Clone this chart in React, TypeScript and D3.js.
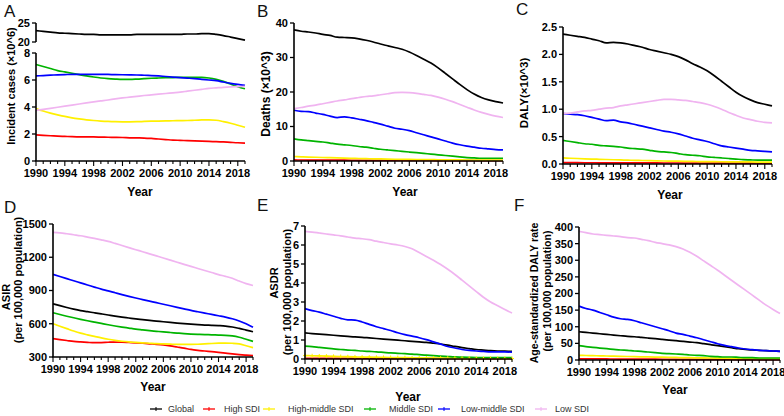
import * as d3 from 'd3';

const years = d3.range(1990, 2020);
const yearTicks = [1990, 1994, 1998, 2002, 2006, 2010, 2014, 2018];
const seriesNames = ['Global', 'High SDI', 'High-middle SDI', 'Middle SDI', 'Low-middle SDI', 'Low SDI'];
const seriesColors = ['#000000', '#ff0000', '#fff000', '#00b400', '#0000ff', '#f0b4f0'];

// A: incident cases (x10^6)
const incidentGlobal = [23.0, 22.8, 22.6, 22.4, 22.3, 22.2, 22.1, 22.0, 22.0, 21.9, 21.9, 21.9, 21.9, 21.9, 22.0, 22.0, 22.0, 22.0, 22.0, 22.0, 22.0, 22.1, 22.1, 22.2, 22.2, 22.0, 21.7, 21.3, 20.9, 20.5];
const incidentHigh = [1.93, 1.9, 1.87, 1.84, 1.82, 1.8, 1.79, 1.78, 1.78, 1.77, 1.76, 1.75, 1.74, 1.72, 1.71, 1.7, 1.67, 1.63, 1.59, 1.55, 1.53, 1.51, 1.49, 1.47, 1.45, 1.43, 1.41, 1.38, 1.35, 1.33];
const incidentHighMid = [3.88, 3.7, 3.55, 3.42, 3.3, 3.2, 3.12, 3.05, 3.0, 2.96, 2.93, 2.91, 2.9, 2.9, 2.91, 2.93, 2.95, 2.96, 2.97, 2.98, 2.99, 3.0, 3.02, 3.04, 3.05, 3.02, 2.92, 2.8, 2.65, 2.5];
const incidentMid = [7.15, 7.0, 6.85, 6.7, 6.6, 6.5, 6.4, 6.3, 6.22, 6.15, 6.1, 6.07, 6.05, 6.05, 6.07, 6.1, 6.13, 6.15, 6.17, 6.18, 6.2, 6.2, 6.2, 6.2, 6.15, 6.05, 5.9, 5.7, 5.5, 5.35];
const incidentLowMid = [6.3, 6.33, 6.36, 6.38, 6.4, 6.42, 6.42, 6.42, 6.42, 6.42, 6.41, 6.4, 6.39, 6.38, 6.37, 6.35, 6.33, 6.3, 6.26, 6.22, 6.18, 6.14, 6.1, 6.05, 6.0, 5.95, 5.85, 5.75, 5.67, 5.6];
const incidentLow = [3.75, 3.82, 3.9, 3.98, 4.06, 4.14, 4.22, 4.3, 4.38, 4.45, 4.52, 4.6, 4.67, 4.73, 4.79, 4.85, 4.9, 4.95, 5.0, 5.05, 5.1, 5.17, 5.24, 5.31, 5.38, 5.42, 5.46, 5.49, 5.51, 5.53];

// B: deaths (x10^3)
const deathsGlobal = [38.0, 37.6, 37.4, 37.1, 36.7, 36.4, 35.9, 35.8, 35.7, 35.4, 35.0, 34.5, 33.9, 33.4, 32.9, 32.4, 31.6, 30.6, 29.5, 28.4, 27.0, 25.4, 23.8, 22.2, 20.7, 19.4, 18.4, 17.7, 17.2, 16.8];
const deathsHigh = [0.3, 0.29, 0.28, 0.27, 0.26, 0.25, 0.24, 0.23, 0.22, 0.21, 0.2, 0.19, 0.18, 0.17, 0.16, 0.16, 0.15, 0.15, 0.14, 0.14, 0.13, 0.13, 0.12, 0.12, 0.12, 0.11, 0.11, 0.11, 0.1, 0.1];
const deathsHighMid = [1.3, 1.22, 1.15, 1.08, 1.01, 0.95, 0.89, 0.83, 0.78, 0.73, 0.68, 0.63, 0.59, 0.55, 0.51, 0.48, 0.45, 0.42, 0.4, 0.38, 0.36, 0.34, 0.32, 0.3, 0.29, 0.28, 0.27, 0.26, 0.25, 0.24];
const deathsMid = [6.4, 6.1, 5.9, 5.7, 5.5, 5.2, 4.9, 4.7, 4.5, 4.2, 4.0, 3.7, 3.4, 3.2, 3.0, 2.8, 2.6, 2.4, 2.2, 2.0, 1.8, 1.6, 1.4, 1.2, 1.0, 0.9, 0.8, 0.8, 0.8, 0.8];
const deathsLowMid = [14.7, 14.4, 14.3, 13.9, 13.5, 13.0, 12.6, 12.8, 12.5, 12.1, 11.7, 11.2, 10.7, 10.1, 9.5, 9.2, 8.8, 8.2, 7.6, 7.0, 6.4, 5.8, 5.2, 4.7, 4.3, 4.0, 3.7, 3.5, 3.3, 3.2];
const deathsLow = [15.2, 15.5, 15.9, 16.2, 16.6, 17.0, 17.4, 17.7, 18.1, 18.4, 18.7, 18.9, 19.2, 19.5, 19.8, 19.9, 19.8, 19.6, 19.3, 19.0, 18.5, 17.9, 17.2, 16.4, 15.6, 14.8, 14.1, 13.5, 13.0, 12.6];

// C: DALY (x10^3)
const dalyGlobal = [2.37, 2.35, 2.33, 2.31, 2.28, 2.25, 2.21, 2.22, 2.21, 2.19, 2.16, 2.13, 2.09, 2.06, 2.03, 2.0, 1.96, 1.9, 1.83, 1.77, 1.7, 1.61, 1.51, 1.41, 1.31, 1.23, 1.17, 1.12, 1.09, 1.06];
const dalyHigh = [0.025, 0.024, 0.024, 0.023, 0.023, 0.022, 0.022, 0.021, 0.021, 0.02, 0.02, 0.02, 0.019, 0.019, 0.018, 0.018, 0.018, 0.017, 0.017, 0.017, 0.016, 0.016, 0.016, 0.016, 0.015, 0.015, 0.015, 0.015, 0.015, 0.015];
const dalyHighMid = [0.11, 0.105, 0.1, 0.095, 0.09, 0.086, 0.082, 0.078, 0.074, 0.07, 0.067, 0.064, 0.061, 0.058, 0.055, 0.053, 0.051, 0.049, 0.047, 0.045, 0.043, 0.042, 0.041, 0.04, 0.039, 0.038, 0.037, 0.036, 0.035, 0.035];
const dalyMid = [0.43, 0.41, 0.39, 0.37, 0.36, 0.34, 0.33, 0.32, 0.31, 0.29, 0.28, 0.27, 0.25, 0.23, 0.22, 0.21, 0.19, 0.17, 0.16, 0.15, 0.13, 0.12, 0.11, 0.1, 0.09, 0.08, 0.075, 0.07, 0.07, 0.07];
const dalyLowMid = [0.92, 0.91, 0.9, 0.88, 0.85, 0.82, 0.79, 0.8, 0.77, 0.75, 0.72, 0.69, 0.66, 0.63, 0.6, 0.58, 0.55, 0.51, 0.47, 0.44, 0.41, 0.37, 0.33, 0.31, 0.29, 0.27, 0.25, 0.24, 0.23, 0.22];
const dalyLow = [0.92, 0.93, 0.95, 0.97, 0.98, 1.0, 1.02, 1.03, 1.06, 1.08, 1.1, 1.12, 1.14, 1.16, 1.18, 1.18, 1.17, 1.16, 1.14, 1.12, 1.09, 1.05, 1.0, 0.94, 0.89, 0.84, 0.81, 0.78, 0.76, 0.75];

// D: ASIR (per 100,000)
const asirGlobal = [780, 763, 747, 732, 719, 709, 699, 689, 679, 669, 660, 652, 644, 637, 630, 624, 618, 612, 606, 601, 597, 592, 588, 586, 583, 579, 571, 558, 543, 528];
const asirHigh = [465, 457, 449, 441, 436, 432, 429, 430, 433, 435, 434, 431, 428, 424, 419, 414, 408, 400, 390, 380, 368, 360, 354, 348, 342, 335, 328, 322, 317, 312];
const asirHighMid = [600, 578, 556, 534, 515, 500, 486, 472, 460, 450, 442, 436, 432, 428, 424, 420, 418, 416, 414, 414, 414, 415, 418, 422, 425, 426, 424, 418, 402, 384];
const asirMid = [700, 683, 668, 654, 640, 627, 615, 603, 591, 580, 570, 561, 552, 545, 538, 532, 526, 521, 516, 511, 507, 504, 502, 500, 498, 496, 490, 478, 460, 441];
const asirLowMid = [1045, 1026, 1007, 988, 969, 950, 931, 912, 897, 880, 863, 847, 832, 818, 804, 790, 776, 762, 748, 734, 720, 708, 696, 684, 672, 660, 645, 625, 600, 568];
const asirLow = [1425, 1420, 1412, 1403, 1394, 1382, 1370, 1357, 1343, 1325, 1306, 1287, 1268, 1250, 1231, 1212, 1193, 1174, 1155, 1136, 1118, 1099, 1080, 1062, 1043, 1028, 1010, 985, 962, 945];

// E: ASDR (per 100,000)
const asdrGlobal = [1.37, 1.34, 1.31, 1.28, 1.25, 1.22, 1.19, 1.16, 1.14, 1.11, 1.08, 1.05, 1.02, 0.99, 0.96, 0.93, 0.9, 0.87, 0.83, 0.79, 0.73, 0.66, 0.6, 0.55, 0.5, 0.47, 0.44, 0.42, 0.41, 0.4];
const asdrHigh = [0.04, 0.038, 0.036, 0.034, 0.032, 0.03, 0.029, 0.028, 0.027, 0.026, 0.025, 0.024, 0.023, 0.022, 0.021, 0.02, 0.02, 0.019, 0.019, 0.018, 0.018, 0.017, 0.017, 0.016, 0.016, 0.016, 0.015, 0.015, 0.015, 0.015];
const asdrHighMid = [0.18, 0.17, 0.16, 0.15, 0.14, 0.13, 0.12, 0.11, 0.1, 0.095, 0.09, 0.085, 0.08, 0.075, 0.07, 0.065, 0.06, 0.055, 0.05, 0.047, 0.044, 0.041, 0.038, 0.036, 0.034, 0.032, 0.03, 0.029, 0.028, 0.027];
const asdrMid = [0.68, 0.65, 0.61, 0.57, 0.53, 0.5, 0.47, 0.45, 0.42, 0.4, 0.38, 0.35, 0.32, 0.3, 0.28, 0.26, 0.23, 0.2, 0.18, 0.15, 0.13, 0.11, 0.1, 0.09, 0.08, 0.08, 0.07, 0.07, 0.07, 0.07];
const asdrLowMid = [2.65, 2.55, 2.47, 2.36, 2.25, 2.14, 2.06, 2.05, 1.95, 1.82, 1.7, 1.6, 1.5, 1.38, 1.28, 1.2, 1.12, 1.02, 0.9, 0.78, 0.66, 0.58, 0.5, 0.45, 0.42, 0.4, 0.38, 0.37, 0.37, 0.36];
const asdrLow = [6.72, 6.68, 6.63, 6.58, 6.53, 6.48, 6.42, 6.36, 6.33, 6.28, 6.2, 6.13, 6.06, 6.0, 5.92, 5.8, 5.6, 5.4, 5.2, 4.97, 4.72, 4.45, 4.15, 3.85, 3.55, 3.25, 3.0, 2.8, 2.6, 2.42];

// F: age-standardized DALY rate (per 100,000)
const asdalyGlobal = [85, 83, 81, 79, 77, 75, 73, 71, 70, 68, 66, 64, 62, 60, 58, 56, 54, 52, 49, 46, 43, 40, 37, 34, 32, 30, 29, 28, 27, 26];
const asdalyHigh = [3.5, 3.4, 3.3, 3.2, 3.1, 3.0, 2.9, 2.8, 2.7, 2.6, 2.5, 2.4, 2.3, 2.2, 2.1, 2.0, 1.9, 1.8, 1.7, 1.7, 1.6, 1.5, 1.5, 1.4, 1.4, 1.3, 1.3, 1.3, 1.2, 1.2];
const asdalyHighMid = [14, 13.5, 13, 12.5, 12, 11.5, 11, 10.5, 10, 9.6, 9.2, 8.8, 8.4, 8, 7.6, 7.2, 6.9, 6.6, 6.3, 6, 5.7, 5.4, 5.1, 4.9, 4.7, 4.5, 4.3, 4.2, 4.1, 4];
const asdalyMid = [43, 40, 38, 36, 34, 32, 30, 29, 27, 26, 24, 22, 20, 19, 18, 17, 15, 14, 13, 11, 10, 9, 9, 8, 7, 7, 6, 6, 6, 6];
const asdalyLowMid = [162, 155, 150, 143, 136, 129, 124, 122, 118, 112, 106, 100, 94, 88, 81, 77, 72, 67, 61, 55, 49, 44, 40, 36, 33, 31, 29, 28, 27, 26];
const asdalyLow = [387, 383, 379, 377, 375, 373, 371, 368, 367, 363, 359, 354, 350, 346, 341, 334, 324, 312, 298, 284, 270, 255, 240, 225, 210, 195, 180, 165, 152, 140];

const FONT = "'Liberation Sans', Arial, Helvetica, sans-serif";

type Title = { text: string; x: number; y: number; size: number };
type Panel = {
  letter: string; lx: number; ly: number;
  x0: number; x1: number; yTop: number; yBot: number;
  domain: [number, number]; ticks: number[]; fmt: (v: number) => string;
  series: number[][];
  titles: Title[];
  yearX: number; yearY: number;
  breakAxis?: boolean;
  markers?: number;
};

const panels: Panel[] = [
  {
    letter: 'A', lx: 4, ly: 17, x0: 36, x1: 245, yTop: 53, yBot: 161,
    domain: [0, 8], ticks: [0, 2, 4, 6, 8], fmt: d3.format('d'),
    series: [incidentGlobal, incidentHigh, incidentHighMid, incidentMid, incidentLowMid, incidentLow],
    titles: [{ text: 'Incident cases (×10^6)', x: 11, y: 86, size: 11 }],
    yearX: 140, yearY: 196, breakAxis: true,
  },
  {
    letter: 'B', lx: 257, ly: 17, x0: 294, x1: 503, yTop: 23, yBot: 161,
    domain: [0, 40], ticks: [0, 10, 20, 30, 40], fmt: d3.format('d'),
    series: [deathsGlobal, deathsHigh, deathsHighMid, deathsMid, deathsLowMid, deathsLow],
    titles: [{ text: 'Deaths (×10^3)', x: 266, y: 94, size: 12 }],
    yearX: 405, yearY: 196,
  },
  {
    letter: 'C', lx: 516, ly: 15, x0: 563, x1: 772, yTop: 27, yBot: 164,
    domain: [0, 2.5], ticks: [0, 0.5, 1, 1.5, 2, 2.5], fmt: d3.format('.1f'),
    series: [dalyGlobal, dalyHigh, dalyHighMid, dalyMid, dalyLowMid, dalyLow],
    titles: [{ text: 'DALY(×10^3)', x: 524, y: 93, size: 11.5 }],
    yearX: 670, yearY: 199,
  },
  {
    letter: 'D', lx: 4, ly: 213, x0: 53, x1: 253, yTop: 224, yBot: 357,
    domain: [300, 1500], ticks: [300, 600, 900, 1200, 1500], fmt: d3.format('d'),
    series: [asirGlobal, asirHigh, asirHighMid, asirMid, asirLowMid, asirLow],
    titles: [
      { text: 'ASIR', x: 6, y: 297, size: 11 },
      { text: '(per 100,000 population)', x: 18, y: 280, size: 11 },
    ],
    yearX: 153, yearY: 391,
  },
  {
    letter: 'E', lx: 257, ly: 211, x0: 305, x1: 512, yTop: 226, yBot: 359,
    domain: [0, 7], ticks: [0, 1, 2, 3, 4, 5, 6, 7], fmt: d3.format('d'),
    series: [asdrGlobal, asdrHigh, asdrHighMid, asdrMid, asdrLowMid, asdrLow],
    titles: [
      { text: 'ASDR', x: 274, y: 283, size: 11 },
      { text: '(per 100,000 population)', x: 287, y: 292, size: 11 },
    ],
    yearX: 408, yearY: 401, markers: 2,
  },
  {
    letter: 'F', lx: 514, ly: 211, x0: 579, x1: 780, yTop: 227, yBot: 360,
    domain: [0, 400], ticks: [0, 50, 100, 150, 200, 250, 300, 350, 400], fmt: d3.format('d'),
    series: [asdalyGlobal, asdalyHigh, asdalyHighMid, asdalyMid, asdalyLowMid, asdalyLow],
    titles: [
      { text: 'Age-standardized DALY rate', x: 534, y: 293, size: 10.5 },
      { text: '(per 100,000 population)', x: 547, y: 291, size: 10.5 },
    ],
    yearX: 675, yearY: 394,
  },
];

// legend positions: [line start, text start]
const legendPos = [[150, 168], [203, 224], [263, 288], [364, 389], [438, 461], [535, 555]];

function ChartPanel({ p }: { p: Panel }) {
  const x = d3.scaleLinear().domain([1990, 2019]).range([p.x0, p.x1]);
  const y = d3.scaleLinear().domain(p.domain).range([p.yBot, p.yTop]);
  // upper break segment of panel A (Global, 20-25)
  const yUp = d3.scaleLinear().domain([20, 25]).range([42, 23]);

  const mkLine = (scale: d3.ScaleLinear<number, number>) =>
    d3.line<number>()
      .x((_, i) => x(years[i]))
      .y(d => scale(d))
      .curve(d3.curveMonotoneX);

  const axisW = 1.6;
  const tickFont = { fontFamily: FONT, fontSize: 11, fontWeight: 700 } as const;

  return (
    <g>
      <text x={p.lx} y={p.ly} fontFamily={FONT} fontSize={17} fill="#111">{p.letter}</text>

      {p.series.map((s, i) => {
        const scale = p.breakAxis && i === 0 ? yUp : y;
        return (
          <path key={i} d={mkLine(scale)(s) || ''} fill="none" stroke={seriesColors[i]} strokeWidth={1.7} />
        );
      })}

      {p.markers !== undefined && p.series[p.markers].map((v, i) => (
        <g key={i} stroke={seriesColors[p.markers!]} strokeWidth={1}>
          <line x1={x(years[i]) - 2} x2={x(years[i]) + 2} y1={y(v)} y2={y(v)} />
          <line x1={x(years[i])} x2={x(years[i])} y1={y(v) - 2} y2={y(v) + 2} />
        </g>
      ))}

      {/* y axis */}
      <line x1={p.x0} x2={p.x0} y1={p.yTop} y2={p.yBot} stroke="#000" strokeWidth={axisW} />
      {p.ticks.map(t => (
        <g key={t}>
          <line x1={p.x0 - 4} x2={p.x0} y1={y(t)} y2={y(t)} stroke="#000" strokeWidth={1.3} />
          <text x={p.x0 - 6} y={y(t)} dy="0.36em" textAnchor="end" {...tickFont}>{p.fmt(t)}</text>
        </g>
      ))}
      {p.breakAxis && (
        <g>
          <line x1={p.x0} x2={p.x0} y1={23} y2={42} stroke="#000" strokeWidth={axisW} />
          {[20, 25].map(t => (
            <g key={t}>
              <line x1={p.x0 - 4} x2={p.x0} y1={yUp(t)} y2={yUp(t)} stroke="#000" strokeWidth={1.3} />
              <text x={p.x0 - 6} y={yUp(t)} dy="0.36em" textAnchor="end" {...tickFont}>{t}</text>
            </g>
          ))}
        </g>
      )}

      {/* x axis */}
      <line x1={p.x0 - 0.8} x2={p.x1} y1={p.yBot} y2={p.yBot} stroke="#000" strokeWidth={axisW} />
      {years.map(yr => {
        const major = yearTicks.includes(yr);
        return (
          <line key={yr} x1={x(yr)} x2={x(yr)} y1={p.yBot} y2={p.yBot + (major ? 5 : 3)} stroke="#000" strokeWidth={1.1} />
        );
      })}
      {yearTicks.map(yr => (
        <text key={yr} x={x(yr)} y={p.yBot + 16} textAnchor="middle" {...tickFont}>{yr}</text>
      ))}

      <text x={p.yearX} y={p.yearY} textAnchor="middle" fontFamily={FONT} fontSize={12} fontWeight={700}>Year</text>

      {p.titles.map((t, i) => (
        <text key={i} transform={`translate(${t.x},${t.y}) rotate(-90)`} dy="0.36em" textAnchor="middle"
          fontFamily={FONT} fontSize={t.size} fontWeight={700}>{t.text}</text>
      ))}
    </g>
  );
}

export default function App() {
  return (
    <svg width={784} height={416} style={{ position: 'absolute', left: 0, top: 0, background: '#fff' }}>
      {panels.map(p => <ChartPanel key={p.letter} p={p} />)}
      <g>
        {seriesNames.map((name, i) => {
          const [lx, tx] = legendPos[i];
          const cy = 409;
          return (
            <g key={name}>
              <line x1={lx} x2={lx + 12} y1={cy} y2={cy} stroke={seriesColors[i]} strokeWidth={1.3} />
              <line x1={lx + 6} x2={lx + 6} y1={cy - 2} y2={cy + 2} stroke={seriesColors[i]} strokeWidth={1} />
              <text x={tx} y={cy} dy="0.35em" fontFamily={FONT} fontSize={9} fill="#333">{name}</text>
            </g>
          );
        })}
      </g>
    </svg>
  );
}
